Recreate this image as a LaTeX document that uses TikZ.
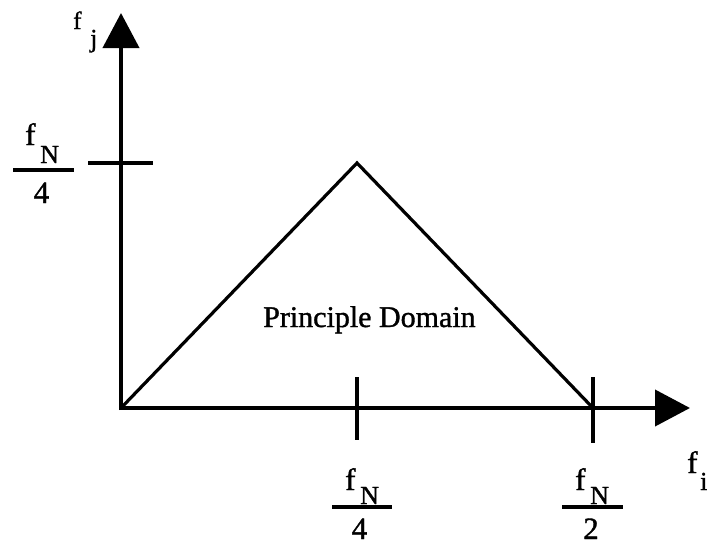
\documentclass[tikz,border=0pt]{standalone}
\usepackage{fontspec}
\setmainfont[FakeBold=1.2]{Liberation Serif}
\usetikzlibrary{arrows.meta}
\begin{document}
\begin{tikzpicture}[x=1pt,y=-1pt,
  axis/.style={line width=4pt,-{Triangle[length=35pt,width=36pt]}},
  tickmark/.style={line width=4pt},
  edge/.style={line width=3.2pt,line join=miter},
  fracbar/.style={line width=3.2pt},
  lbl/.style={inner sep=0pt,anchor=base west,font=\fontsize{31}{36}\selectfont},
  sublbl/.style={inner sep=0pt,anchor=base west,font=\fontsize{26}{30}\selectfont},
  digit/.style={inner sep=0pt,anchor=base,font=\fontsize{31}{36}\selectfont},
  caption/.style={inner sep=0pt,anchor=base west,font=\fontsize{30}{36}\selectfont}]
\useasboundingbox (0,0) rectangle (707,544);
% key points
\coordinate (O) at (121,408);
\coordinate (Ostart) at (121,410);
\coordinate (Oxstart) at (119,408);
\coordinate (ytip) at (121,13);
\coordinate (xtip) at (690,408);
\coordinate (apex) at (357,163);
\coordinate (R) at (593,408);
% axes
\draw[axis] (Ostart) -- (ytip);
\draw[axis] (Oxstart) -- (xtip);
% ticks
\coordinate (yt1) at (88,163); \coordinate (yt2) at (153,163);
\draw[tickmark] (yt1) -- (yt2);
\coordinate (xt1a) at (357,377); \coordinate (xt1b) at (357,440);
\draw[tickmark] (xt1a) -- (xt1b);
\coordinate (xt2a) at (593,377); \coordinate (xt2b) at (593,443);
\draw[tickmark] (xt2a) -- (xt2b);
% triangle
\draw[edge] (O) -- (apex) -- (R);
% domain label
\node[caption] (dom) at (263,327) {Principle Domain};
% f_j
\node[lbl,font=\fontsize{25}{30}\selectfont] (fjf) at (73,29) {f};
\node[sublbl] (fjj) at (90,47) {j};
% f_i
\node[lbl] (fif) at (687,473) {f};
\node[sublbl] (fii) at (700,490) {i};
% left fraction fN/4
\node[lbl] (lf) at (25,145) {f};
\node[sublbl] (lN) at (40,163) {N};
\draw[fracbar] (13,170) -- (74,170);
\node[digit] (l4) at (41.5,203) {4};
% bottom fraction fN/4
\node[lbl] (bf1) at (345,490) {f};
\node[sublbl] (bN1) at (360,504) {N};
\draw[fracbar] (332,507) -- (392,507);
\node[digit] (b4) at (359.5,539) {4};
% bottom fraction fN/2
\node[lbl] (bf2) at (575,490) {f};
\node[sublbl] (bN2) at (590,504) {N};
\draw[fracbar] (562,507) -- (623,507);
\node[digit] (b2) at (591,539) {2};
\end{tikzpicture}
\end{document}
